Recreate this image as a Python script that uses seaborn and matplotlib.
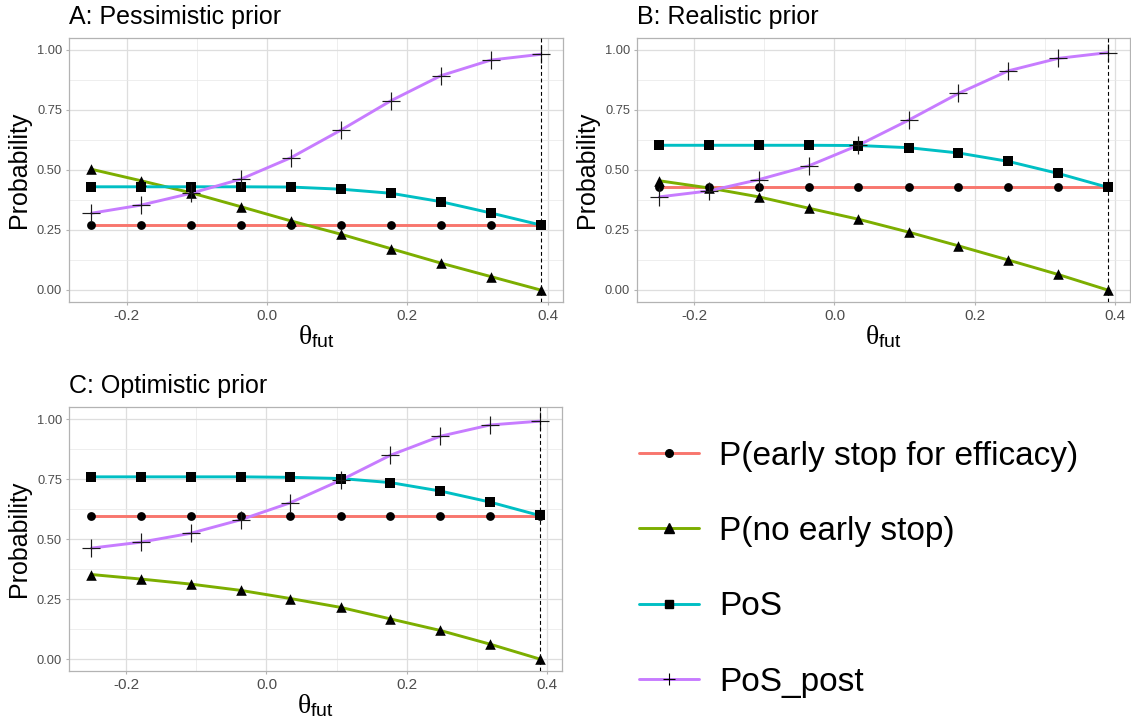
import numpy as np
import pandas as pd
import matplotlib
matplotlib.use("Agg")
import matplotlib.pyplot as plt
from matplotlib.lines import Line2D
import seaborn as sns

# Futility threshold grid
theta = [-0.25, -0.179, -0.108, -0.037, 0.034, 0.106, 0.177, 0.248, 0.319, 0.39]

measures = ["P(early stop for efficacy)", "P(no early stop)", "PoS", "PoS_post"]

# A: pessimistic prior
eff_A = [0.27, 0.27, 0.27, 0.27, 0.27, 0.27, 0.27, 0.27, 0.27, 0.27]
nostop_A = [0.503, 0.455, 0.405, 0.347, 0.288, 0.232, 0.172, 0.112, 0.056, 0.0]
pos_A = [0.430, 0.430, 0.430, 0.430, 0.429, 0.420, 0.403, 0.368, 0.321, 0.271]
post_A = [0.320, 0.354, 0.403, 0.462, 0.551, 0.667, 0.789, 0.893, 0.958, 0.982]

# B: realistic prior
eff_B = [0.428, 0.428, 0.428, 0.428, 0.428, 0.428, 0.428, 0.428, 0.428, 0.428]
nostop_B = [0.455, 0.425, 0.388, 0.341, 0.295, 0.241, 0.184, 0.125, 0.065, 0.0]
pos_B = [0.603, 0.603, 0.603, 0.603, 0.602, 0.593, 0.571, 0.536, 0.486, 0.428]
post_B = [0.388, 0.413, 0.460, 0.517, 0.603, 0.708, 0.819, 0.913, 0.965, 0.989]

# C: optimistic prior
eff_C = [0.597, 0.597, 0.597, 0.597, 0.597, 0.597, 0.597, 0.597, 0.597, 0.597]
nostop_C = [0.352, 0.333, 0.312, 0.286, 0.252, 0.215, 0.167, 0.119, 0.062, 0.0]
pos_C = [0.759, 0.759, 0.759, 0.759, 0.757, 0.752, 0.735, 0.700, 0.654, 0.598]
post_C = [0.462, 0.487, 0.524, 0.580, 0.651, 0.745, 0.849, 0.928, 0.975, 0.991]

titles = ["A: Pessimistic prior", "B: Realistic prior", "C: Optimistic prior"]
theta_max = 0.39

palette = {
    "P(early stop for efficacy)": "#F8766D",
    "P(no early stop)": "#7CAE00",
    "PoS": "#00BFC4",
    "PoS_post": "#C77CFF",
}
marker_style = {
    "P(early stop for efficacy)": dict(marker="o", s=40, color="black", linewidth=0),
    "P(no early stop)": dict(marker="^", s=58, color="black", linewidth=0),
    "PoS": dict(marker="s", s=44, color="black", linewidth=0),
    "PoS_post": dict(marker="+", s=150, color="#1a1a1a", linewidth=0.85),
}


def long_frame(eff, nostop, pos, post):
    parts = []
    for name, vals in zip(measures, [eff, nostop, pos, post]):
        parts.append(pd.DataFrame({"theta": theta, "prob": vals, "measure": name}))
    return pd.concat(parts, ignore_index=True)


frames = [
    long_frame(eff_A, nostop_A, pos_A, post_A),
    long_frame(eff_B, nostop_B, pos_B, post_B),
    long_frame(eff_C, nostop_C, pos_C, post_C),
]

sns.set_theme(style="white")
plt.rcParams["font.family"] = ["Liberation Sans", "DejaVu Sans"]
plt.rcParams["text.color"] = "black"
plt.rcParams["axes.labelcolor"] = "black"
plt.rcParams["mathtext.fontset"] = "custom"
plt.rcParams["mathtext.rm"] = "Liberation Serif"
plt.rcParams["mathtext.sf"] = "Liberation Sans"
plt.rcParams["mathtext.it"] = "Liberation Serif:italic"

W, H = 1131, 726
fig = plt.figure(figsize=(W / 100, H / 100), dpi=100)

boxes = [
    (69, 38, 494, 264),
    (637, 38, 493, 264),
    (69, 407, 493, 264),
]

for (left, top, w, h), df, title in zip(boxes, frames, titles):
    ax = fig.add_axes([left / W, (H - top - h) / H, w / W, h / H])
    ax.set_facecolor("white")

    ax.set_xlim(-0.282, 0.422)
    ax.set_ylim(-0.05, 1.05)
    ax.set_xticks([-0.2, 0.0, 0.2, 0.4])
    ax.set_xticklabels(["-0.2", "0.0", "0.2", "0.4"])
    ax.set_xticks([-0.1, 0.1, 0.3], minor=True)
    ax.set_yticks([0.0, 0.25, 0.5, 0.75, 1.0])
    ax.set_yticklabels(["0.00", "0.25", "0.50", "0.75", "1.00"])
    ax.set_yticks([0.125, 0.375, 0.625, 0.875], minor=True)
    ax.grid(which="major", color="#DEDEDE", linewidth=0.9)
    ax.grid(which="minor", color="#E9E9E9", linewidth=0.55)
    ax.set_axisbelow(True)
    for sp in ax.spines.values():
        sp.set_color("#B3B3B3")
        sp.set_linewidth(0.9)
    ax.tick_params(which="major", length=2.5, width=0.8, color="#B3B3B3",
                   labelcolor="#4D4D4D", bottom=True, left=True)
    ax.tick_params(axis="x", which="major", labelsize=11, pad=2.5)
    ax.tick_params(axis="y", which="major", labelsize=9.3, pad=2.5)
    ax.tick_params(which="minor", length=0)

    sns.lineplot(data=df, x="theta", y="prob", hue="measure", palette=palette,
                 hue_order=measures, estimator=None, sort=False, linewidth=2.1,
                 legend=False, ax=ax, zorder=3)
    for name in measures:
        sub = df[df["measure"] == name]
        sns.scatterplot(data=sub, x="theta", y="prob", ax=ax, legend=False,
                        zorder=4, **marker_style[name])

    ax.axvline(theta_max, color="black", linestyle=(0, (3.5, 2.5)),
               linewidth=0.8, zorder=5)

    ax.set_title(title, loc="left", fontsize=18, pad=10, color="black")
    ax.set_ylabel("Probability", fontsize=18, labelpad=4)
    ax.set_xlabel(r"$\mathrm{\theta}_{\mathsf{fut}}$", fontsize=20, labelpad=0)

# Legend in the empty bottom-right cell
handles = []
legend_markers = {
    "P(early stop for efficacy)": dict(marker="o", markersize=5.5),
    "P(no early stop)": dict(marker="^", markersize=7),
    "PoS": dict(marker="s", markersize=6),
    "PoS_post": dict(marker="+", markersize=8, markeredgewidth=0.8),
}
for name in measures:
    handles.append(Line2D([0], [0], color=palette[name], linewidth=2.1,
                          markerfacecolor="black", markeredgecolor="black",
                          **legend_markers[name]))
fig.legend(handles, measures, loc="center left",
           bbox_to_anchor=(639 / W, (H - 569) / H), frameon=False,
           fontsize=24, handlelength=1.8, handletextpad=0.6,
           labelspacing=1.33, borderpad=0, borderaxespad=0)

fig.savefig("out.png", dpi=100, facecolor="white")
